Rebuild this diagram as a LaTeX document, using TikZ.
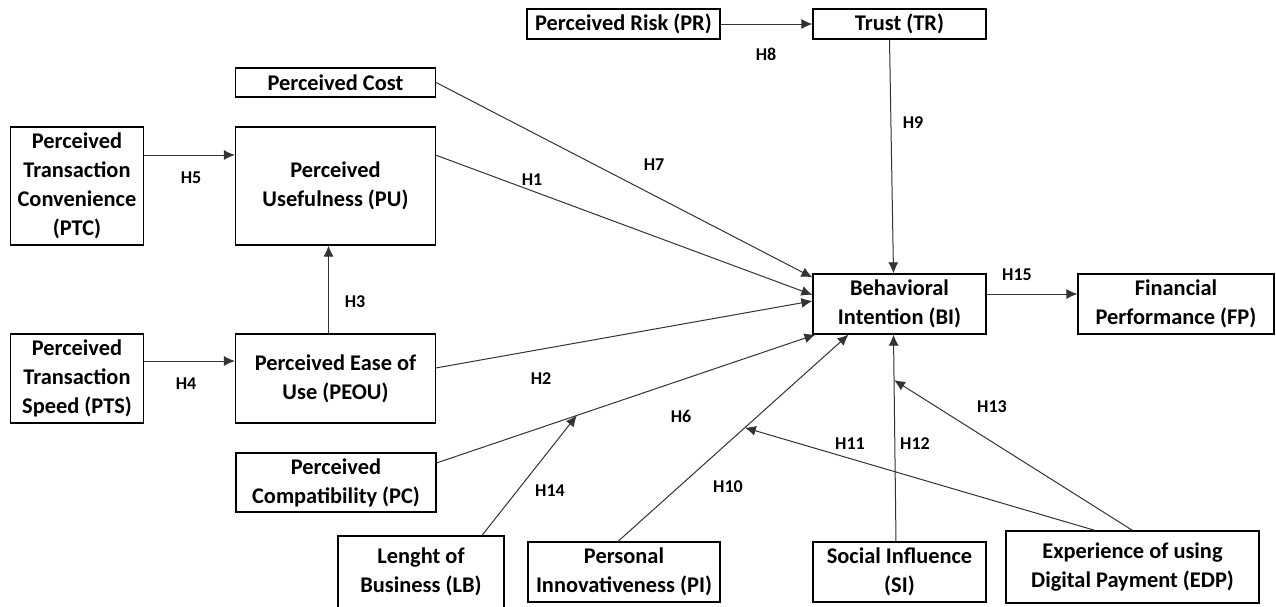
\documentclass[tikz,border=0pt]{standalone}
\usepackage{fontspec}
\setmainfont{Carlito}
\usepackage{tikz}
\usetikzlibrary{calc, positioning, arrows.meta}

\tikzset{
  construct/.style={draw=black, line width=0.6pt, inner sep=0pt, align=center,
    font=\bfseries\fontsize{11.2}{14.5}\selectfont},
  hyp/.style={inner sep=0pt, font=\bfseries\fontsize{9}{11}\selectfont},
  link/.style={draw=black!80, line width=0.5pt, -{Latex[length=5.5pt,width=5pt]}}
}

\begin{document}
\begin{tikzpicture}[x=0.5pt, y=-0.5pt]
          \useasboundingbox (0,0) rectangle (1276,606);
          % Top row
          \node[construct, minimum width=96.5pt, minimum height=15pt] (PR) at (623.5,24) {Perceived Risk (PR)};
          \node[construct, minimum width=86.5pt, minimum height=15pt] (TR) at (899.5,24) {Trust (TR)};
          \node[construct, minimum width=100pt, minimum height=14.5pt] (PCost) at (335.5,82.5) {Perceived Cost};
          % Left side
          \node[construct, minimum width=66.5pt, minimum height=59pt] (PTC) at (77,186) {Perceived\\Transaction\\Convenience\\(PTC)};
          \node[construct, minimum width=100pt, minimum height=59pt] (PU) at (335.5,186) {Perceived\\Usefulness (PU)};
          \node[construct, minimum width=66.5pt, minimum height=44.5pt] (PTS) at (77,378.5) {Perceived\\Transaction\\Speed (PTS)};
          \node[construct, minimum width=100pt, minimum height=44.5pt] (PEOU) at (335.5,378.5) {Perceived Ease of\\Use (PEOU)};
          \node[construct, minimum width=100pt, minimum height=29.5pt] (PC) at (336,482.5) {Perceived\\Compatibility (PC)};
          % Outcome
          \node[construct, minimum width=86.5pt, minimum height=30pt] (BI) at (899.5,304) {Behavioral\\Intention (BI)};
          \node[construct, minimum width=98pt, minimum height=30pt] (FP) at (1176,304) {Financial\\Performance (FP)};
          % Bottom row
          \node[construct, minimum width=83pt, minimum height=36pt] (LB) at (421,572) {Lenght of\\Business (LB)};
          \node[construct, minimum width=96pt, minimum height=30pt] (PI) at (624,572) {Personal\\Innovativeness (PI)};
          \node[construct, minimum width=86.5pt, minimum height=30pt] (SI) at (899.5,572) {Social Influence\\(SI)};
          \node[construct, minimum width=126.5pt, minimum height=36pt] (EDP) at (1132.5,567) {Experience of using\\Digital Payment (EDP)};
          % Direct paths
          \draw[link] (PR.east) -- (TR.west);
          \draw[link] ([xshift=-5pt]TR.south) -- ([xshift=-3pt]BI.north);
          \draw[link] (PCost.east) -- (BI.163);
          \draw[link] ([yshift=15.5pt]PTC.east) -- ([yshift=15.5pt]PU.west);
          \draw[link] (PU.17) -- (BI.174);
          \draw[link] ([xshift=-3.5pt]PEOU.north) -- ([xshift=-3.5pt]PU.south);
          \draw[link] ([yshift=8.75pt]PTS.east) -- ([yshift=8.75pt]PEOU.west);
          \draw[link] (PEOU.6) -- (BI.178);
          \draw[link] (PC.11) -- (BI.200);
          \draw[link] ([xshift=-3pt]PI.north) -- (BI.211);
          \draw[link] ([xshift=-1.75pt]SI.north) -- ([xshift=-3pt]BI.south);
          \draw[link] ([yshift=5pt]BI.east) -- ([yshift=5pt]FP.west);
          % Moderating paths
          \coordinate (m14) at ($(PC.11)!0.37!(BI.200)$);
          \coordinate (m11) at ($([xshift=-3pt]PI.north)!0.55!(BI.211)$);
          \coordinate (m13) at ($([xshift=-1.75pt]SI.north)!0.78!([xshift=-3pt]BI.south)$);
          \draw[link] ([xshift=30.5pt]LB.north) -- (m14);
          \draw[link] ([xshift=-18.75pt]EDP.north) -- (m11);
          \draw[link] (EDP.north) -- (m13);
          % Hypotheses
          \node[hyp] (H1) at (532,180) {H1};
          \node[hyp] (H2) at (541,379) {H2};
          \node[hyp] (H3) at (355,302) {H3};
          \node[hyp] (H4) at (186,384) {H4};
          \node[hyp] (H5) at (191,178) {H5};
          \node[hyp] (H6) at (681,416) {H6};
          \node[hyp] (H7) at (654,165) {H7};
          \node[hyp] (H8) at (766,54) {H8};
          \node[hyp] (H9) at (913,123) {H9};
          \node[hyp] (H10) at (728,487) {H10};
          \node[hyp] (H11) at (850,444) {H11};
          \node[hyp] (H12) at (915,444) {H12};
          \node[hyp] (H13) at (992,407) {H13};
          \node[hyp] (H14) at (550,491) {H14};
          \node[hyp] (H15) at (1017,275) {H15};
        \end{tikzpicture}
\end{document}
